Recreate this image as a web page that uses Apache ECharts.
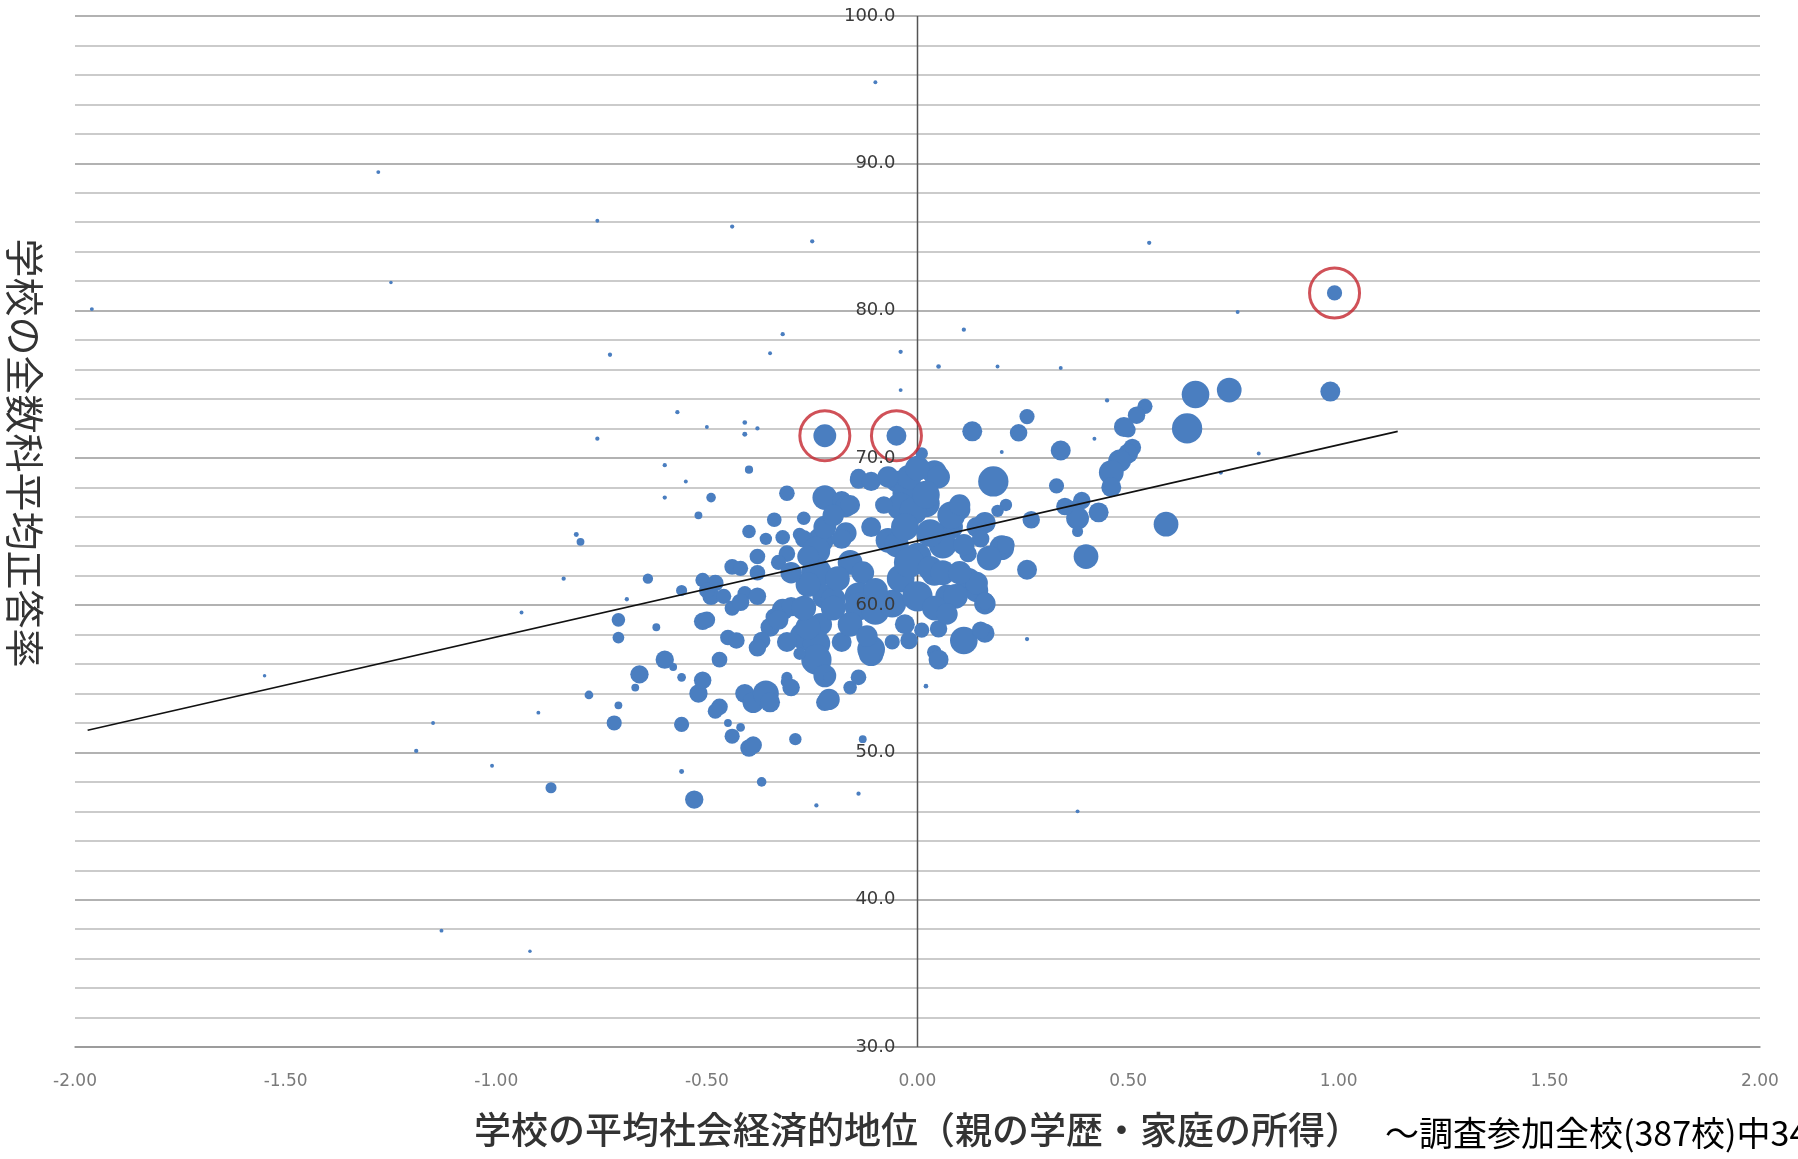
<!DOCTYPE html>
<html>
<head>
<meta charset="utf-8">
<script src="https://cdn.jsdelivr.net/npm/echarts@6/dist/echarts.min.js"></script>
<style>
  html, body { margin: 0; padding: 0; background: #ffffff; }
  #chart { width: 1798px; height: 1159px; }
</style>
</head>
<body>
<div id="chart"></div>
<script>
// Each school: [average socio-economic status, average correct-answer rate (%), enrolled students]
const outlyingSchools = [
  [-1.28, 89.4, 5], [-1.96, 80.1, 5], [-0.76, 86.1, 5], [-0.44, 85.7, 6], [-0.25, 84.7, 6],
  [-0.10, 95.5, 5], [0.55, 84.6, 6], [-0.73, 77.0, 6], [-0.35, 77.1, 5], [-0.32, 78.4, 6],
  [-0.04, 77.2, 6], [0.05, 76.2, 7], [0.11, 78.7, 6], [0.19, 76.2, 5], [0.34, 76.1, 5],
  [0.76, 79.9, 5], [-0.57, 73.1, 6], [-0.41, 72.4, 7], [-0.41, 71.6, 8], [-0.38, 72.0, 6],
  [-0.50, 72.1, 5], [-0.76, 71.3, 6], [-0.60, 69.5, 6], [-0.55, 68.4, 5], [-0.60, 67.3, 6],
  [-0.81, 64.8, 8], [-0.84, 61.8, 6], [-0.94, 59.5, 5], [-1.15, 52.0, 5], [-1.19, 50.1, 6],
  [-1.01, 49.1, 5], [-0.90, 52.7, 5], [-1.13, 37.9, 5], [-0.92, 36.5, 4], [-0.24, 46.4, 6],
  [-0.14, 47.2, 6], [0.38, 46.0, 5], [0.02, 54.5, 7], [0.26, 57.7, 6], [0.72, 69.0, 6],
  [0.45, 73.9, 6], [0.81, 70.3, 5], [0.42, 71.3, 5], [0.20, 70.4, 5], [-1.55, 55.2, 4],
  [-1.25, 81.9, 4], [-0.04, 74.6, 5], [-0.69, 60.4, 6], [-0.56, 48.7, 8]
];

const lowerLeftSchools = [
  [-0.80, 64.3, 20], [-0.87, 47.6, 40], [-0.13, 50.9, 20], [-0.71, 59.0, 60], [-0.71, 57.8, 45],
  [-0.64, 61.8, 35], [-0.78, 53.9, 25], [-0.71, 53.2, 20], [-0.56, 61.0, 40], [-0.51, 61.7, 70],
  [-0.51, 58.9, 100], [-0.60, 56.3, 110], [-0.66, 55.3, 110], [-0.52, 54.0, 110], [-0.47, 53.1, 90],
  [-0.72, 52.0, 75], [-0.56, 51.9, 75], [-0.53, 46.8, 110], [-0.62, 58.5, 20], [-0.58, 55.8, 20],
  [-0.56, 55.1, 25], [-0.67, 54.4, 20], [-0.52, 66.1, 20], [-0.49, 67.3, 30], [-0.40, 69.2, 22],
  [-0.31, 67.5, 30], [-0.37, 48.0, 30], [-0.14, 55.2, 20], [-0.48, 61.5, 90], [-0.49, 60.6, 100],
  [-0.50, 59.0, 90], [-0.45, 57.8, 80], [-0.47, 56.3, 80], [-0.51, 54.9, 100], [-0.44, 62.6, 80],
  [-0.45, 52.0, 20], [-0.42, 51.7, 25]
];

const centralSchools = [
  [-0.43, 57.6, 90], [-0.41, 60.8, 70], [-0.41, 54.0, 120], [-0.39, 53.4, 150], [-0.36, 54.0, 220],
  [-0.40, 50.3, 100], [-0.38, 63.3, 80], [-0.40, 65.0, 60], [-0.34, 65.8, 70], [-0.27, 65.9, 60],
  [-0.32, 64.6, 70], [-0.28, 64.8, 60], [-0.31, 63.5, 90], [-0.31, 67.6, 80], [-0.22, 67.3, 200],
  [-0.18, 67.1, 120], [-0.14, 68.7, 90], [-0.23, 64.4, 220], [-0.17, 66.7, 150], [-0.17, 64.9, 150],
  [-0.27, 64.5, 100], [-0.24, 63.7, 250], [-0.24, 62.2, 300], [-0.16, 62.9, 200], [-0.13, 62.2, 170],
  [-0.22, 60.6, 200], [-0.14, 60.6, 250], [-0.14, 59.9, 250], [-0.20, 60.4, 200], [-0.23, 58.7, 170],
  [-0.27, 57.9, 250], [-0.24, 57.4, 250], [-0.26, 58.5, 200], [-0.24, 56.3, 300], [-0.22, 55.2, 170],
  [-0.22, 53.4, 100], [-0.21, 53.6, 150], [-0.18, 57.5, 130], [-0.11, 56.7, 200], [-0.11, 57.0, 250],
  [-0.11, 59.4, 100], [-0.10, 59.6, 250], [-0.06, 60.1, 250], [-0.06, 57.5, 75], [-0.14, 55.1, 80],
  [-0.21, 55.1, 40], [-0.31, 55.1, 40], [-0.32, 59.7, 150], [-0.35, 58.5, 120], [-0.37, 57.6, 100],
  [-0.34, 59.2, 100], [-0.30, 59.9, 120], [-0.33, 59.0, 130], [-0.31, 57.5, 130], [-0.38, 57.1, 100],
  [-0.44, 59.8, 75], [-0.46, 60.6, 75], [-0.42, 62.5, 75], [-0.33, 62.9, 75], [-0.36, 64.5, 50],
  [-0.35, 53.4, 130], [-0.29, 50.9, 50], [-0.31, 54.8, 50], [-0.28, 56.7, 50], [-0.48, 52.8, 75],
  [-0.44, 51.1, 75], [-0.39, 50.5, 100], [-0.18, 64.5, 130], [-0.16, 66.8, 130], [-0.14, 68.5, 100],
  [-0.22, 65.3, 170], [-0.22, 71.5, 170], [-0.05, 71.5, 130],
  [-0.26, 61.4, 200], [-0.30, 62.2, 150], [-0.27, 59.8, 200], [-0.19, 61.8, 200], [-0.16, 58.7, 200],
  [-0.12, 57.9, 150], [-0.10, 61.0, 200], [-0.04, 61.8, 250], [-0.05, 68.4, 150], [-0.03, 67.6, 200],
  [-0.11, 68.4, 120], [-0.20, 66.1, 150], [-0.26, 63.3, 150], [-0.38, 60.6, 100], [-0.38, 62.2, 80],
  [-0.42, 60.2, 100], [-0.50, 61.0, 80], [-0.30, 54.4, 100], [-0.16, 54.4, 60], [-0.20, 59.8, 200]
];

const nearZeroSchools = [
  [-0.04, 66.7, 250], [0.02, 66.9, 250], [-0.02, 68.7, 200], [0.04, 69.0, 200], [-0.07, 68.7, 150],
  [-0.07, 64.4, 200], [0.00, 63.3, 250], [0.04, 62.2, 220], [0.12, 61.7, 200], [0.14, 61.0, 180],
  [0.16, 60.1, 150], [0.20, 63.9, 200], [0.16, 65.6, 150], [0.08, 65.3, 180], [0.10, 66.5, 150],
  [0.07, 60.6, 180], [-0.02, 57.6, 100], [0.04, 56.8, 70], [0.11, 57.6, 250], [0.16, 58.1, 120],
  [0.05, 56.3, 130], [0.00, 69.3, 200], [0.05, 68.7, 170], [-0.05, 64.1, 200], [-0.02, 62.9, 300],
  [0.03, 62.5, 200], [0.00, 60.6, 300], [-0.03, 58.7, 130], [0.01, 58.3, 75], [0.05, 58.4, 100],
  [0.09, 60.6, 200], [0.06, 62.2, 200], [0.06, 64.1, 250], [0.08, 66.1, 250], [0.14, 65.3, 130],
  [0.15, 64.5, 100], [0.17, 63.2, 200], [0.12, 63.5, 100], [0.14, 61.5, 170], [0.16, 60.3, 100],
  [0.15, 58.3, 100], [0.01, 70.3, 50], [-0.01, 66.4, 250], [-0.03, 65.3, 250], [-0.08, 66.8, 100],
  [-0.11, 65.3, 130], [0.02, 67.5, 250], [0.04, 59.8, 200], [0.03, 64.9, 250], [0.10, 66.8, 150],
  [0.10, 62.2, 180], [0.11, 64.1, 150], [0.07, 59.4, 150]
];

const upperRightSchools = [
  [0.99, 81.2, 75], [0.98, 74.5, 130], [0.74, 74.6, 200], [0.66, 74.3, 250], [0.64, 72.0, 300],
  [0.59, 65.5, 200], [0.54, 73.5, 75], [0.52, 72.9, 100], [0.50, 71.9, 75], [0.49, 72.1, 130],
  [0.51, 70.7, 100], [0.50, 70.3, 130], [0.48, 69.8, 170], [0.46, 69.0, 200], [0.46, 68.0, 130],
  [0.43, 66.3, 130], [0.39, 67.1, 100], [0.37, 66.5, 100], [0.38, 65.9, 170], [0.40, 63.3, 200],
  [0.38, 65.0, 40], [0.33, 68.1, 75], [0.34, 70.5, 130], [0.27, 65.8, 100], [0.26, 62.4, 130],
  [0.26, 72.8, 75], [0.24, 71.7, 100], [0.18, 68.4, 300], [0.13, 71.8, 130], [0.21, 66.8, 50],
  [0.19, 66.4, 50], [0.21, 64.1, 100], [0.35, 66.7, 100]
];

// Schools marked with a red ring
const circledSchools = [[-0.22, 71.5], [-0.05, 71.5], [0.99, 81.2]];

// Linear trend line, endpoints [ses, score]
const trendLine = [[-1.97, 51.5], [1.14, 71.8]];

// Axis ranges [min, max, step]
const sesRange = [-2, 2, 0.5];
const scoreRange = [30, 100, 10];

const xTitle = '学校の平均社会経済的地位（親の学歴・家庭の所得）';
const yTitle = '学校の全数科平均正答率';
const note = '～調査参加全校(387校)中346校';

const allSchools = [].concat(outlyingSchools, lowerLeftSchools, centralSchools,
  nearZeroSchools, upperRightSchools);

// vertical axis line through ses = 0, spanning the score range
const zeroLine = [[0, scoreRange[0]], [0, scoreRange[1]]];

const gridBox = { left: 75, right: 38, top: 16, bottom: 112 };
const plotWidth = 1798 - gridBox.left - gridBox.right;
// shift the score labels from the grid's left edge to ses = 0
const zeroOffset = -plotWidth * (0 - sesRange[0]) / (sesRange[1] - sesRange[0]);

const chart = echarts.init(document.getElementById('chart'), null, { renderer: 'canvas' });

const yAxisBase = {
  type: 'value',
  min: scoreRange[0],
  max: scoreRange[1],
  interval: scoreRange[2],
  position: 'left'
};

chart.setOption({
  animation: false,
  backgroundColor: '#ffffff',
  grid: gridBox,
  xAxis: {
    type: 'value',
    min: sesRange[0],
    max: sesRange[1],
    interval: sesRange[2],
    axisLine: { show: true, onZero: false, lineStyle: { color: '#8c8c8c', width: 1.5 } },
    axisTick: { show: false },
    splitLine: { show: false },
    axisLabel: {
      margin: 26,
      color: '#7a7a7a',
      fontSize: 17,
      fontFamily: 'DejaVu Sans',
      formatter: v => v.toFixed(2)
    }
  },
  yAxis: [
    // value labels beside ses = 0, above the bubbles
    Object.assign({}, yAxisBase, {
      z: 10,
      offset: zeroOffset,
      axisLine: { show: false, onZero: false },
      axisTick: { show: false },
      splitLine: { show: false },
      axisLabel: {
        margin: 22,
        color: '#3a3a3a',
        fontSize: 18,
        fontFamily: 'DejaVu Sans',
        formatter: v => v.toFixed(1)
      }
    }),
    // horizontal grid lines beneath the bubbles
    Object.assign({}, yAxisBase, {
      z: 1,
      axisLine: { show: false, onZero: false },
      axisTick: { show: false },
      axisLabel: { show: false },
      splitLine: { show: true, lineStyle: { color: '#999999', width: 1.6 } },
      minorTick: { show: false, splitNumber: 5 },
      minorSplitLine: { show: true, lineStyle: { color: '#bababa', width: 1.6 } }
    })
  ],
  series: [
    {
      type: 'line',
      name: 'axis',
      data: zeroLine,
      yAxisIndex: 0,
      showSymbol: false,
      symbol: 'none',
      lineStyle: { color: '#555555', width: 1.5 },
      silent: true,
      z: 1
    },
    {
      type: 'scatter',
      name: 'schools',
      data: allSchools,
      yAxisIndex: 0,
      symbol: 'circle',
      symbolSize: v => Math.sqrt(v[2]) * 1.75,
      itemStyle: { color: '#4a7ec0', opacity: 1 },
      silent: true,
      z: 2
    },
    {
      type: 'line',
      name: 'trend',
      data: trendLine,
      yAxisIndex: 0,
      showSymbol: false,
      symbol: 'none',
      lineStyle: { color: '#111111', width: 1.6 },
      silent: true,
      z: 4
    },
    {
      type: 'scatter',
      name: 'circled',
      data: circledSchools,
      yAxisIndex: 0,
      symbol: 'circle',
      symbolSize: 50,
      itemStyle: { color: 'rgba(0,0,0,0)', borderColor: '#c4262e', borderWidth: 3 },
      silent: true,
      z: 5
    }
  ],
  graphic: [
    {
      type: 'text',
      x: 25,
      y: 453,
      rotation: -Math.PI / 2,
      style: {
        text: yTitle,
        fill: '#333333',
        font: '400 39px "Noto Sans CJK JP"',
        align: 'center',
        verticalAlign: 'middle'
      }
    },
    {
      type: 'text',
      x: 918,
      y: 1130,
      style: {
        text: xTitle,
        fill: '#333333',
        font: '500 37px "Noto Sans CJK JP"',
        align: 'center',
        verticalAlign: 'middle'
      }
    },
    {
      type: 'text',
      x: 1385,
      y: 1133,
      style: {
        text: note,
        fill: '#000000',
        font: '34px "Noto Sans CJK JP"',
        align: 'left',
        verticalAlign: 'middle'
      }
    }
  ]
});
</script>
</body>
</html>
